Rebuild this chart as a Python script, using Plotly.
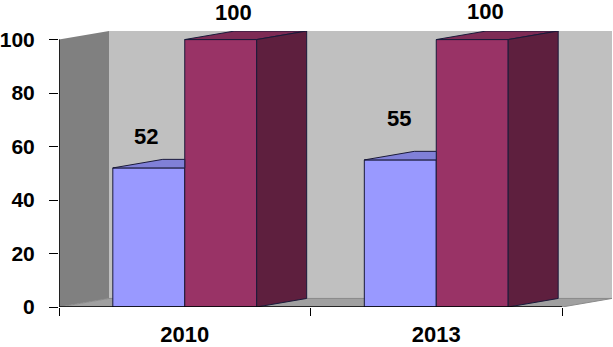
import plotly.graph_objects as go

# ---- data ----
categories = ["2010", "2013"]
series_a = [52, 55]      # light blue bars
series_b = [100, 100]    # plum bars
y_ticks = [0, 20, 40, 60, 80, 100]

# ---- style / geometry constants ----
W = 0.286      # bar width (category units)
D = 0.1988     # depth offset x (category units)
DY = 3.2       # depth offset y (value units)
YMAX = 100
FONT = "Liberation Sans, Arial, sans-serif"
EDGE = "#1a1a3a"

blue_front, blue_top = "#9999FF", "#8080D8"
red_front, red_top, red_side = "#993366", "#7E2B55", "#5E1F3E"

xs = list(range(len(categories)))
fig = go.Figure()

# front faces as bars
fig.add_trace(go.Bar(x=xs, y=series_a, width=W, offset=-W,
                     marker=dict(color=blue_front, line=dict(color=EDGE, width=1)),
                     hoverinfo="skip", showlegend=False))
fig.add_trace(go.Bar(x=xs, y=series_b, width=W, offset=0,
                     marker=dict(color=red_front, line=dict(color=EDGE, width=1)),
                     hoverinfo="skip", showlegend=False))


def poly(px, py, color):
    fig.add_trace(go.Scatter(x=px + [px[0]], y=py + [py[0]], mode="lines", fill="toself",
                             fillcolor=color, line=dict(color=EDGE, width=1),
                             hoverinfo="skip", showlegend=False, cliponaxis=False))


for c, va, vb in zip(xs, series_a, series_b):
    # blue top (part not hidden by plum front)
    poly([c - W, c, c, c - W + D], [va, va, va + DY, va + DY], blue_top)
    # plum top
    poly([c, c + W, c + W + D, c + D], [vb, vb, vb + DY, vb + DY], red_top)
    # plum side
    poly([c + W, c + W, c + W + D, c + W + D], [0, vb, vb + DY, DY], red_side)

x0, x1 = -0.5, len(categories) - 0.5


def path(pts):
    return "M " + " L ".join(f"{a},{b}" for a, b in pts) + " Z"


shapes = [
    # back wall
    dict(type="path", xref="x", yref="y", layer="below",
         path=path([(x0 + D, DY), (x1 + D, DY), (x1 + D, YMAX + DY), (x0 + D, YMAX + DY)]),
         fillcolor="#C0C0C0", line=dict(width=0)),
    # side wall
    dict(type="path", xref="x", yref="y", layer="below",
         path=path([(x0, 0), (x0, YMAX), (x0 + D, YMAX + DY), (x0 + D, DY)]),
         fillcolor="#808080", line=dict(width=0)),
    # floor
    dict(type="path", xref="x", yref="y", layer="below",
         path=path([(x0, 0), (x1, 0), (x1 + D, DY), (x0 + D, DY)]),
         fillcolor="#A0A0A0", line=dict(color="#8a8a8a", width=1)),
    # axis lines
    dict(type="line", xref="x", yref="y", x0=x0, x1=x1, y0=0, y1=0,
         line=dict(color="black", width=1.5), layer="above"),
    dict(type="line", xref="x", yref="y", x0=x0, x1=x0, y0=0, y1=YMAX,
         line=dict(color="black", width=1.5), layer="above"),
]

# value labels
label_shift_a = [(-3, 31), (-1, 41)]
label_shift_b = [(13, 27), (13, 28)]
annotations = []
for c, va, vb, sa, sb in zip(xs, series_a, series_b, label_shift_a, label_shift_b):
    annotations.append(dict(x=c - W / 2, y=va, text=str(va), showarrow=False,
                            xshift=sa[0], yshift=sa[1], yanchor="middle",
                            font=dict(family=FONT, size=22, color="black", weight="bold")))
    annotations.append(dict(x=c + W / 2, y=vb, text=str(vb), showarrow=False,
                            xshift=sb[0], yshift=sb[1], yanchor="middle",
                            font=dict(family=FONT, size=22, color="black", weight="bold")))

fig.update_layout(
    width=613, height=347,
    margin=dict(l=59, r=1, t=31, b=40, autoexpand=False),
    paper_bgcolor="white", plot_bgcolor="white",
    barmode="overlay",
    shapes=shapes, annotations=annotations,
    font=dict(family=FONT, size=22, color="black"),
    xaxis=dict(range=[x0, x1 + D], tickvals=xs, ticktext=categories, ticks="",
               showgrid=False, zeroline=False, showline=False, automargin=False,
               tickfont=dict(family=FONT, size=22, color="black", weight="bold"),
               ticklabelstandoff=12,
               minor=dict(tickvals=[x0 + i for i in range(len(categories) + 1)],
                          ticks="outside", ticklen=8, tickcolor="black", tickwidth=1,
                          showgrid=False)),
    yaxis=dict(range=[0, YMAX + DY], tickvals=y_ticks, ticks="outside", ticklen=9,
               tickcolor="black", tickwidth=1, showgrid=False, zeroline=False,
               showline=False, ticklabelstandoff=10, automargin=False,
               tickfont=dict(family=FONT, size=21, color="black", weight="bold")),
)

fig.write_html("out.html", config={"displayModeBar": False},
               post_script="document.body.style.margin='0';document.body.style.padding='0';")
